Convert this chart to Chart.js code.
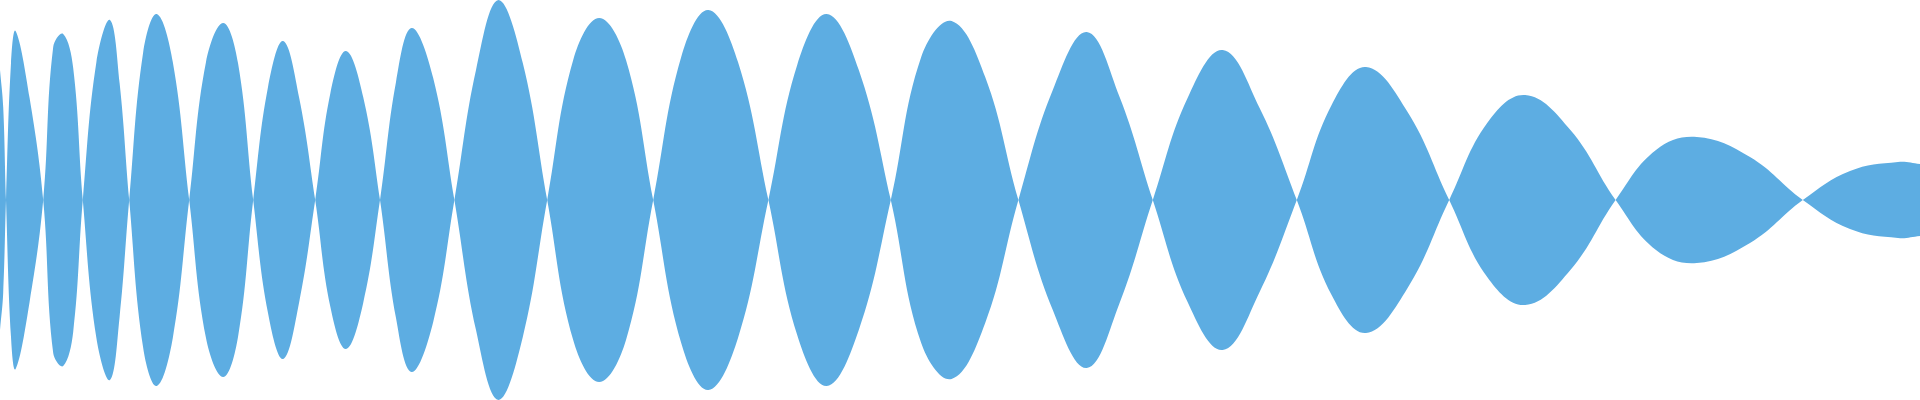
<!DOCTYPE html>
<html>
<head>
<meta charset="utf-8">
<style>
  html, body { margin: 0; padding: 0; background: #fff; }
  #wrap { width: 1920px; height: 400px; }
</style>
<script src="https://cdn.jsdelivr.net/npm/chart.js@4/dist/chart.umd.min.js"></script>
</head>
<body>
<div id="wrap"><canvas id="wave"></canvas></div>
<script>
// time (s) of the samples: zero crossings and points along each lobe
const times = [
  0, 0.008, 0.015,
  0.0275, 0.039, 0.074, 0.108,
  0.133, 0.158, 0.183, 0.207,
  0.241, 0.275, 0.299, 0.323,
  0.358, 0.392, 0.432, 0.473,
  0.515, 0.558, 0.595, 0.633,
  0.670, 0.708, 0.748, 0.788,
  0.826, 0.865, 0.908, 0.950,
  0.990, 1.029, 1.083, 1.136,
  1.190, 1.246, 1.307, 1.368,
  1.433, 1.498, 1.565, 1.633,
  1.703, 1.771, 1.845, 1.921,
  1.993, 2.067, 2.147, 2.227,
  2.303, 2.379, 2.463, 2.546,
  2.632, 2.717, 2.799, 2.882,
  2.969, 3.057, 3.149, 3.242,
  3.329, 3.415, 3.519, 3.623,
  3.718, 3.813, 3.926, 4.039,
  4.140, 4.242, 4.375, 4.507,
  4.625, 4.745, 4.8
];
// signed amplitude at those times
const amplitude = [
  -0.65, -0.465, 0,
  0.685, 0.845, 0.51, 0,
  -0.765, -0.83, -0.66, 0,
  0.69, 0.90, 0.585, 0,
  -0.74, -0.93, -0.69, 0,
  0.69, 0.885, 0.685, 0,
  -0.565, -0.795, -0.51, 0,
  0.535, 0.745, 0.515, 0,
  -0.59, -0.86, -0.61, 0,
  0.65, 1.0, 0.685, 0,
  -0.70, -0.91, -0.70, 0,
  0.715, 0.95, 0.69, 0,
  -0.675, -0.93, -0.65, 0,
  0.715, 0.895, 0.615, 0,
  -0.55, -0.84, -0.515, 0,
  0.51, 0.75, 0.46, 0,
  -0.475, -0.665, -0.44, 0,
  0.385, 0.525, 0.35, 0,
  -0.25, -0.315, -0.215, 0,
  0.145, 0.19, 0.18
];

const waveColor = '#5DADE2';

const upper = times.map((t, i) => ({ x: t, y: amplitude[i] }));
const lower = times.map((t, i) => ({ x: t, y: -amplitude[i] }));

function waveSet(points) {
  return {
    data: points,
    borderWidth: 0,
    borderColor: waveColor,
    backgroundColor: waveColor,
    fill: 'origin',
    pointRadius: 0,
    tension: 0.4
  };
}

new Chart(document.getElementById('wave'), {
  type: 'line',
  data: { datasets: [waveSet(upper), waveSet(lower)] },
  options: {
    responsive: true,
    maintainAspectRatio: false,
    animation: false,
    layout: { padding: 0 },
    plugins: { legend: { display: false }, tooltip: { enabled: false } },
    scales: {
      x: { type: 'linear', min: 0, max: 4.8, display: false },
      y: { min: -1, max: 1, display: false }
    }
  }
});
</script>
</body>
</html>
